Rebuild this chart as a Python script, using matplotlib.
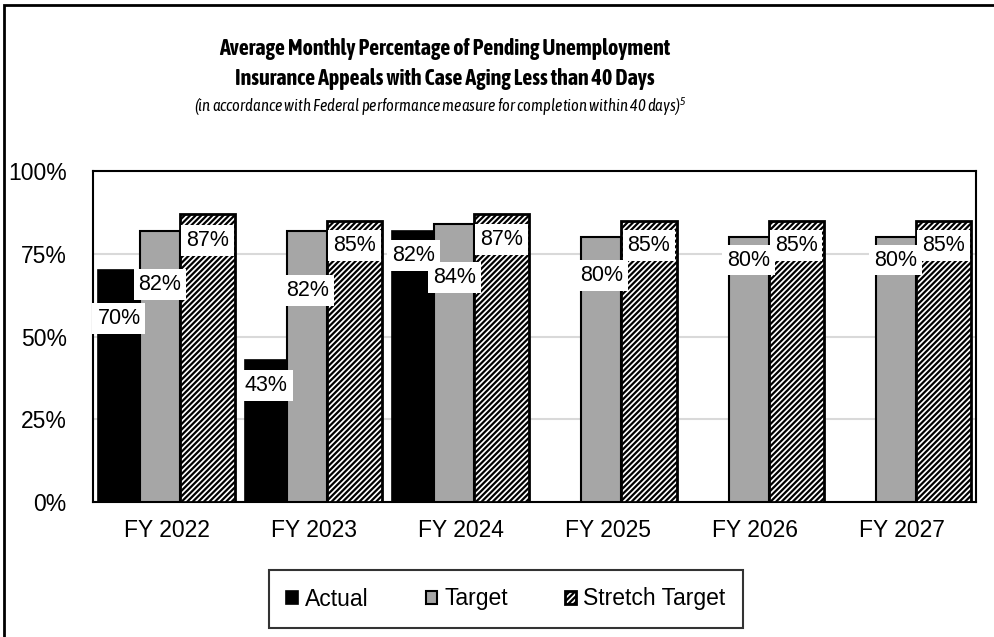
import matplotlib.pyplot as plt
from matplotlib import font_manager as fm
from matplotlib.patches import Rectangle
import numpy as np

plt.rcParams['font.family'] = ['Liberation Sans', 'DejaVu Sans']
plt.rcParams['hatch.linewidth'] = 1.6

years = ['FY 2022', 'FY 2023', 'FY 2024', 'FY 2025', 'FY 2026', 'FY 2027']
actual = [70, 43, 82, np.nan, np.nan, np.nan]
target = [82, 82, 84, 80, 80, 80]
stretch = [87, 85, 87, 85, 85, 85]

# where each label sits below the bar top (percentage points)
actual_lab = [14.6, 7.8, 7.6, 0, 0, 0]
target_lab = [16.3, 18.0, 16.2, 11.6, 6.9, 6.9]
stretch_lab = [8.1, 7.6, 7.8, 7.6, 7.6, 7.6]

title1 = 'Average Monthly Percentage of Pending Unemployment'
title2 = 'Insurance Appeals with Case Aging Less than 40 Days'
subtitle = '(in accordance with Federal performance measure for completion within 40 days)'


def wnum(w):
    return w if isinstance(w, (int, float)) else fm.weight_dict.get(w, 400)


def has_face(name, bold, italic):
    for f in fm.fontManager.ttflist:
        if f.name != name:
            continue
        if bold and wnum(f.weight) < 600:
            continue
        if not bold and wnum(f.weight) > 500:
            continue
        if italic != (f.style in ('italic', 'oblique')):
            continue
        return True
    return False


# a narrow face like the one in the original, chosen by how big it gets at the original's width
narrow = ['Liberation Sans Narrow', 'Arial Narrow', 'Roboto Condensed', 'PT Sans Narrow',
          'Archivo Narrow', 'Barlow Semi Condensed', 'Fira Sans Condensed',
          'Encode Sans Semi Condensed', 'Encode Sans Condensed', 'Asap Condensed',
          'IBM Plex Sans Condensed']


def pick_font(fig, text, width, size_wanted, bold, italic):
    r = fig.canvas.get_renderer()
    best = ('Liberation Sans', None)
    for name in narrow + ['Liberation Sans']:
        if not has_face(name, bold, italic):
            continue
        t = fig.text(0, 0, text, fontsize=16, family=name,
                     fontweight='bold' if bold else 'normal',
                     style='italic' if italic else 'normal')
        size = 16 * width / t.get_window_extent(r).width
        t.remove()
        if best[1] is None or abs(size - size_wanted) < abs(best[1] - size_wanted):
            best = (name, size)
    return best


fig = plt.figure(figsize=(9.94, 6.37), dpi=100)
ax = fig.add_axes([93/994, 1 - 502/637, 883/994, 331/637])

x = np.arange(len(years)) + 0.5
# bar edges relative to category centre
a_l, t_l, s_l, s_r = -0.466, -0.181, 0.091, 0.465

ax.bar(x + a_l, actual, width=t_l - a_l, align='edge', color='black',
       edgecolor='black', linewidth=1.2, label='Actual', zorder=3)
ax.bar(x + t_l, target, width=s_l - t_l, align='edge', color='#A6A6A6',
       edgecolor='black', linewidth=1.5, label='Target', zorder=3)
ax.bar(x + s_l, stretch, width=s_r - s_l, align='edge', color='white',
       edgecolor='black', hatch='//////', linewidth=2, label='Stretch Target', zorder=3)

box = dict(facecolor='white', edgecolor='none', pad=3.5)
for i in range(len(years)):
    if not np.isnan(actual[i]):
        ax.text(x[i] + (a_l + t_l) / 2, actual[i] - actual_lab[i], f'{actual[i]:.0f}%',
                ha='center', va='center', fontsize=15.5, bbox=box, zorder=5)
    ax.text(x[i] + (t_l + s_l) / 2, target[i] - target_lab[i], f'{target[i]}%',
            ha='center', va='center', fontsize=15.5, bbox=box, zorder=5)
    ax.text(x[i] + (s_l + s_r) / 2, stretch[i] - stretch_lab[i], f'{stretch[i]}%',
            ha='center', va='center', fontsize=15.5, bbox=box, zorder=5)

ax.set_xlim(0, len(years))
ax.set_ylim(0, 100)
ax.set_yticks([0, 25, 50, 75, 100])
ax.set_yticklabels(['0%', '25%', '50%', '75%', '100%'])
ax.set_xticks(x)
ax.set_xticklabels(years)
ax.tick_params(axis='both', length=0, labelsize=16.5)
ax.tick_params(axis='y', pad=19)
ax.tick_params(axis='x', pad=12)
ax.grid(axis='y', color='#D9D9D9', linewidth=1.5, zorder=0)
for s in ax.spines.values():
    s.set_color('black')
    s.set_linewidth(1.5)

tf, ts = pick_font(fig, title1, 453, 15.5, True, False)
fig.text(445/994, 1 - 49/637, title1, ha='center', va='center',
         fontsize=ts, fontweight='bold', family=[tf, 'Liberation Sans'])
fig.text(445/994, 1 - 79/637, title2, ha='center', va='center',
         fontsize=ts, fontweight='bold', family=[tf, 'Liberation Sans'])

sf, ss = pick_font(fig, subtitle, 487, 12.5, False, True)
plt.rcParams['mathtext.fontset'] = 'custom'
plt.rcParams['mathtext.rm'] = f'{sf}:italic'
plt.rcParams['mathtext.it'] = f'{sf}:italic'
fig.text(440/994, 1 - 107/637, subtitle + '$^5$', ha='center', va='center',
         fontsize=ss, style='italic', family=[sf, 'Liberation Sans'])

leg = fig.legend(loc='center', bbox_to_anchor=(506/994, 1 - 599/637), ncol=3,
                 fontsize=16.5, frameon=True, fancybox=False, handlelength=0.5,
                 handleheight=0.5, handletextpad=0.3, columnspacing=2.5,
                 borderpad=0.75, borderaxespad=0)
leg.get_frame().set_edgecolor('black')
leg.get_frame().set_linewidth(1.5)

fig.patches.append(Rectangle((3.5/994, -0.1), 1.2, 1.1 - 4.5/637, transform=fig.transFigure,
                             fill=False, edgecolor='black', linewidth=2))

fig.savefig('out.png', dpi=100)
